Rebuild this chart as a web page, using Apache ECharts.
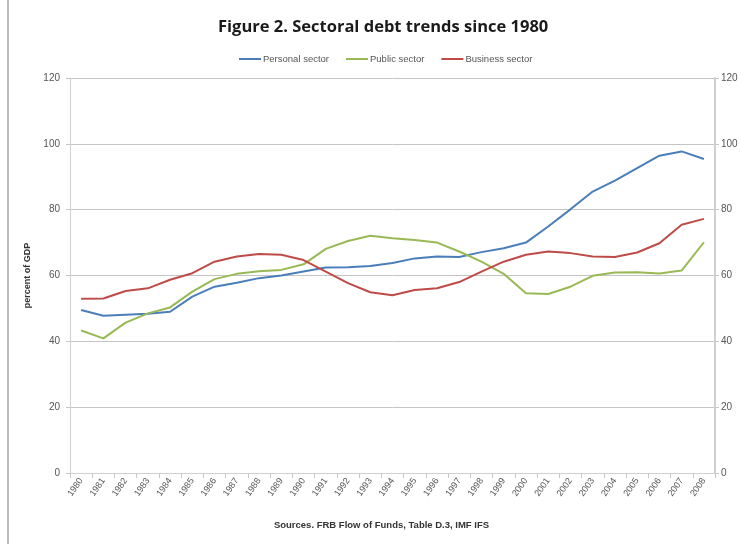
<!DOCTYPE html>
<html><head><meta charset="utf-8">
<script src="https://cdn.jsdelivr.net/npm/echarts@6/dist/echarts.min.js"></script>
<style>html,body{margin:0;padding:0;background:#fff}#c{width:741px;height:544px}</style>
</head><body><div id="c"></div>
<script>
const years = ['1980','1981','1982','1983','1984','1985','1986','1987','1988','1989','1990','1991','1992','1993','1994','1995','1996','1997','1998','1999','2000','2001','2002','2003','2004','2005','2006','2007','2008'];
const personal = [49.5,47.8,48.1,48.4,49.0,53.6,56.6,57.8,59.2,60.0,61.2,62.4,62.5,62.9,63.8,65.2,65.8,65.6,67.1,68.3,70.0,74.9,80.1,85.5,88.8,92.6,96.4,97.7,95.4];
const publicSec = [43.3,40.9,45.7,48.5,50.3,55.1,58.9,60.5,61.3,61.7,63.4,68.1,70.5,72.1,71.3,70.8,70.0,67.3,64.2,60.5,54.6,54.4,56.6,59.9,60.9,61.0,60.6,61.5,70.1];
const business = [52.9,53.0,55.3,56.1,58.7,60.7,64.2,65.8,66.5,66.3,64.7,61.2,57.7,54.9,54.0,55.6,56.1,58.0,61.2,64.2,66.3,67.3,66.8,65.8,65.6,67.0,69.8,75.4,77.2];
const yTicks = {min:0, max:120, interval:20};

const chart = echarts.init(document.getElementById('c'));
const font = "'Liberation Sans', Arial, sans-serif";
chart.setOption({
  animation:false,
  backgroundColor:'#fff',
  textStyle:{fontFamily:font},
  title:{text:'Figure 2. Sectoral debt trends since 1980', left:213, top:14,
    textStyle:{fontFamily:"'Open Sans', sans-serif", fontSize:16.5, fontWeight:'bold', color:'#1a1a1a'}},
  legend:{top:49, left:234, itemWidth:22, itemHeight:2, itemGap:17, icon:'rect',
    textStyle:{fontSize:9.5, color:'#555', padding:[0,0,0,-3]},
    data:['Personal sector','Public sector','Business sector']},
  grid:{left:70, right:26, top:78, bottom:71},
  xAxis:{type:'category', data:years, boundaryGap:true,
    axisLine:{lineStyle:{color:'#d0d0d0'}},
    axisTick:{show:true, alignWithLabel:false, lineStyle:{color:'#c8c8c8'}},
    axisLabel:{rotate:55, fontSize:9, color:'#555', interval:0, margin:6},
    name:'Sources. FRB Flow of Funds, Table D.3, IMF IFS', nameLocation:'middle', nameGap:47,
    nameTextStyle:{fontSize:9.5, fontWeight:'bold', color:'#333', padding:[0,22,0,0]}},
  yAxis:[
    {type:'value', min:yTicks.min, max:yTicks.max, interval:yTicks.interval, position:'left',
     name:'percent of GDP', nameLocation:'middle', nameGap:34, nameRotate:90,
     nameTextStyle:{fontSize:9, fontWeight:'bold', color:'#333'},
     axisLine:{show:true, lineStyle:{color:'#d0d0d0'}},
     axisTick:{show:true, length:4, lineStyle:{color:'#c8c8c8'}},
     axisLabel:{fontSize:10, color:'#555', margin:10},
     splitLine:{lineStyle:{color:'#c4c4c4', width:1}}},
    {type:'value', min:yTicks.min, max:yTicks.max, interval:yTicks.interval, position:'right',
     axisLine:{show:true, lineStyle:{color:'#d0d0d0', width:2}},
     axisTick:{show:true, length:4, lineStyle:{color:'#c8c8c8'}},
     axisLabel:{fontSize:10, color:'#555', margin:6},
     splitLine:{show:false}}
  ],
  series:[
    {name:'Personal sector', type:'line', data:personal, symbol:'none', color:'#4a7ebb', lineStyle:{width:2}},
    {name:'Public sector', type:'line', data:publicSec, symbol:'none', color:'#98b954', lineStyle:{width:2}},
    {name:'Business sector', type:'line', data:business, symbol:'none', color:'#be4b48', lineStyle:{width:2}}
  ],
  graphic:[{type:'line', shape:{x1:8,y1:0,x2:8,y2:544}, style:{stroke:'#bdbdbd', lineWidth:2}}]
});
</script></body></html>
